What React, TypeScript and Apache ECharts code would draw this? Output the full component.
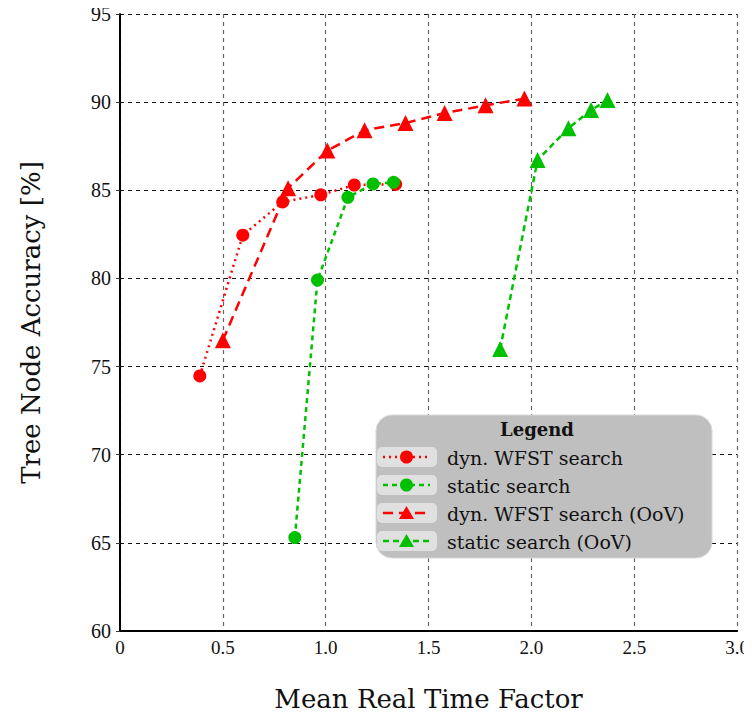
import React, { useEffect, useRef } from "react";
import * as echarts from "echarts";

const dynX = [0.388, 0.597, 0.791, 0.976, 1.139, 1.34];
const dynY = [74.47, 82.45, 84.34, 84.74, 85.3, 85.34];
const staticX = [0.85, 0.96, 1.108, 1.23, 1.33];
const staticY = [65.3, 79.91, 84.6, 85.36, 85.45];
const dynOovX = [0.5, 0.817, 1.008, 1.189, 1.388, 1.578, 1.777, 1.966];
const dynOovY = [76.5, 85.12, 87.25, 88.4, 88.82, 89.38, 89.82, 90.2];
const staticOovX = [1.848, 2.03, 2.18, 2.29, 2.37];
const staticOovY = [76.0, 86.72, 88.52, 89.55, 90.12];

const seriesNames = [
  "dyn. WFST search",
  "static search",
  "dyn. WFST search (OoV)",
  "static search (OoV)",
];

const RED = "#ff0000";
const GREEN = "#00c000";
const FONT = "'Liberation Serif', 'DejaVu Serif', serif";
const WFONT = "'DejaVu Serif', 'Liberation Serif', serif";

const zip = (xs: number[], ys: number[]) => xs.map((x, i) => [x, ys[i]]);

export default function App() {
  const ref = useRef<HTMLDivElement>(null);
  useEffect(() => {
    if (!ref.current) return;
    const chart = echarts.init(ref.current, null, { renderer: "svg" });
    const styles = [
      { color: RED, dash: [2, 4], symbol: "circle", size: 13 },
      { color: GREEN, dash: [5, 4], symbol: "circle", size: 13 },
      { color: RED, dash: [10, 6], symbol: "triangle", size: 16 },
      { color: GREEN, dash: [6, 4], symbol: "triangle", size: 16 },
    ];
    const datas = [
      zip(dynX, dynY),
      zip(staticX, staticY),
      zip(dynOovX, dynOovY),
      zip(staticOovX, staticOovY),
    ];
    const series = datas.map((d, i) => ({
      type: "line",
      name: seriesNames[i],
      data: d,
      symbol: styles[i].symbol,
      symbolSize: styles[i].size,
      lineStyle: { color: styles[i].color, width: 2.5, type: styles[i].dash },
      itemStyle: { color: styles[i].color },
      z: 3 + i,
    }));

    const lx = 376, ly = 415, lw = 336, lh = 143;
    const legendEls: any[] = [
      {
        type: "rect",
        shape: { x: lx, y: ly, width: lw, height: lh, r: 16 },
        style: { fill: "#bfbfbf", stroke: "#d8d8d8", lineWidth: 1 },
        z: 100,
      },
      {
        type: "text",
        x: 537,
        y: 429,
        style: {
          text: "Legend",
          font: `bold 18px ${WFONT}`,
          fill: "#111",
          align: "center",
          verticalAlign: "middle",
        },
        z: 101,
      },
    ];
    seriesNames.forEach((name, i) => {
      const cy = 457 + i * 28;
      const st = styles[i];
      legendEls.push({
        type: "rect",
        shape: { x: 377, y: cy - 10, width: 60, height: 20, r: 5 },
        style: { fill: "#e0e0e0" },
        z: 101,
      });
      legendEls.push({
        type: "line",
        shape: { x1: 383, y1: cy, x2: 430, y2: cy },
        style: { stroke: st.color, lineWidth: 2.5, lineDash: st.dash },
        z: 102,
      });
      if (st.symbol === "circle") {
        legendEls.push({
          type: "circle",
          shape: { cx: 406.5, cy, r: 6.5 },
          style: { fill: st.color },
          z: 103,
        });
      } else {
        legendEls.push({
          type: "polygon",
          shape: {
            points: [
              [406.5, cy - 7],
              [414, cy + 6],
              [399, cy + 6],
            ],
          },
          style: { fill: st.color },
          z: 103,
        });
      }
      legendEls.push({
        type: "text",
        x: 447,
        y: cy + 1,
        style: {
          text: name,
          font: `19px ${WFONT}`,
          fill: "#111",
          verticalAlign: "middle",
        },
        z: 103,
      });
    });

    chart.setOption({
      animation: false,
      backgroundColor: "#ffffff",
      grid: { left: 120, right: 14, top: 14, bottom: 86, containLabel: false },
      xAxis: {
        type: "value",
        min: 0,
        max: 3,
        interval: 0.5,
        name: "Mean Real Time Factor",
        nameLocation: "middle",
        nameGap: 55,
        nameTextStyle: { fontFamily: WFONT, fontSize: 26, color: "#111" },
        axisLine: { show: true, onZero: false, lineStyle: { color: "#000", width: 2 } },
        axisTick: { show: false },
        axisLabel: {
          fontFamily: FONT,
          fontSize: 19,
          color: "#111",
          margin: 7,
          formatter: (v: number) => (v === 0 ? "0" : v.toFixed(1)),
        },
        splitLine: {
          show: true,
          lineStyle: { color: "#666", type: [4, 4], width: 1.2 },
        },
      },
      yAxis: {
        type: "value",
        min: 60,
        max: 95,
        interval: 5,
        name: "Tree Node Accuracy [%]",
        nameLocation: "middle",
        nameGap: 76,
        nameTextStyle: { fontFamily: WFONT, fontSize: 26, color: "#111" },
        axisLine: { show: true, onZero: false, lineStyle: { color: "#000", width: 2 } },
        axisTick: { show: true, length: 4, lineStyle: { color: "#333", width: 1 } },
        axisLabel: { fontFamily: FONT, fontSize: 20, color: "#111", margin: 9 },
        splitLine: {
          show: true,
          lineStyle: { color: "#111", type: [4, 4], width: 1.2 },
        },
      },
      series,
      graphic: legendEls,
    });
    return () => chart.dispose();
  }, []);
  return <div ref={ref} style={{ width: 752, height: 717, margin: -8 }} />;
}
